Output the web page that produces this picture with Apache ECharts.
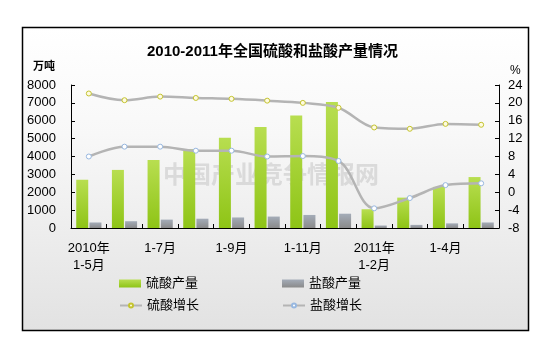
<!DOCTYPE html>
<html>
<head>
<meta charset="utf-8">
<title>2010-2011年全国硫酸和盐酸产量情况</title>
<script src="https://cdn.jsdelivr.net/npm/echarts@6/dist/echarts.min.js"></script>
<style>
  html, body { margin: 0; padding: 0; background: #ffffff; }
  #chart { width: 545px; height: 350px; }
</style>
</head>
<body>
<div id="chart"></div>
<script>
// Periods (cumulative months)
var categories = ['2010年\n1-5月', '1-6月', '1-7月', '1-8月', '1-9月', '1-10月', '1-11月', '1-12月',
                  '2011年\n1-2月', '1-3月', '1-4月', '1-5月'];
// Output, 10k tonnes
var sulfuricOutput = [2700, 3250, 3800, 4400, 5050, 5650, 6300, 7050, 1050, 1700, 2300, 2850];
var hydrochloricOutput = [310, 380, 470, 520, 590, 640, 730, 800, 140, 175, 260, 310];
// Year-on-year growth, %
var sulfuricGrowth = [22.1, 20.6, 21.4, 21.1, 20.9, 20.5, 20.0, 18.9, 14.5, 14.2, 15.3, 15.1];
var hydrochloricGrowth = [8.0, 10.2, 10.2, 9.3, 9.3, 8.0, 8.1, 7.0, -3.6, -1.3, 1.6, 2.0];

var FONT = '"Liberation Sans", Arial, "Noto Sans CJK SC", sans-serif';
var chart = echarts.init(document.getElementById('chart'), null, { renderer: 'canvas' });

var axisLine = { show: true, lineStyle: { color: '#000', width: 1 } };
var axisTick = { show: true, inside: true, length: 4, lineStyle: { color: '#000' } };
var legendText = { fontSize: 13, color: '#000', fontFamily: FONT };

function legendBox(left, top, name, isBar) {
  return {
    left: left, top: top, itemGap: 5,
    itemWidth: 22, itemHeight: isBar ? 8 : 5,
    textStyle: legendText,
    data: [isBar ? { name: name, icon: 'rect' } : { name: name }]
  };
}

chart.setOption({
  animation: false,
  textStyle: { fontFamily: FONT },
  graphic: [
    {
      type: 'rect', z: -10, silent: true,
      shape: { x: 22.5, y: 27.5, width: 506, height: 303 },
      style: {
        stroke: '#000', lineWidth: 1.5,
        fill: new echarts.graphic.LinearGradient(0, 0, 0, 1, [
          { offset: 0, color: '#ffffff' },
          { offset: 0.35, color: '#f8f8f8' },
          { offset: 1, color: '#e2e2e2' }
        ])
      }
    },
    {
      type: 'text', left: 147, top: 44, z: 10,
      style: { text: '2010-2011年全国硫酸和盐酸产量情况', font: 'bold 15px ' + FONT, fill: '#000' }
    },
    {
      type: 'text', left: 33, top: 61,
      style: { text: '万吨', font: 'bold 11px ' + FONT, fill: '#000' }
    },
    {
      type: 'text', left: 510, top: 65,
      style: { text: '%', font: '12px ' + FONT, fill: '#000' }
    },
    {
      type: 'text', left: 163, top: 162, z: 1, silent: true,
      style: { text: '中国产业竞争情报网', font: 'bold 24px "Noto Sans CJK SC", sans-serif',
               fill: 'rgba(180,180,180,0.4)' }
    }
  ],
  legend: [
    legendBox(114, 272, '硫酸产量', true),
    legendBox(114, 294, '硫酸增长', false),
    legendBox(277, 272, '盐酸产量', true),
    legendBox(277, 294, '盐酸增长', false)
  ],
  grid: { left: 71, right: 46, top: 85, height: 143, containLabel: false },
  xAxis: {
    type: 'category',
    data: categories,
    axisLine: axisLine,
    axisTick: { show: true, inside: true, length: 4, interval: 0, lineStyle: { color: '#000' } },
    axisLabel: { interval: 1, margin: 12, fontSize: 13, lineHeight: 17, color: '#000', fontFamily: FONT },
    splitLine: { show: false }
  },
  yAxis: [
    {
      type: 'value', min: 0, max: 8000, interval: 1000,
      axisLine: axisLine, axisTick: axisTick,
      axisLabel: { fontSize: 13, color: '#000', margin: 15, fontFamily: FONT,
                   formatter: function (v) { return String(v); } },
      splitLine: { show: false }
    },
    {
      type: 'value', min: -8, max: 24, interval: 4, position: 'right',
      axisLine: axisLine, axisTick: axisTick,
      axisLabel: { fontSize: 13, color: '#000', margin: 9, fontFamily: FONT },
      splitLine: { show: false }
    }
  ],
  series: [
    {
      name: '硫酸产量', type: 'bar', yAxisIndex: 0, barWidth: 12, barGap: '10%',
      data: sulfuricOutput,
      itemStyle: {
        color: new echarts.graphic.LinearGradient(0, 0, 0, 1, [
          { offset: 0, color: '#b8de50' },
          { offset: 1, color: '#8ec416' }
        ])
      }
    },
    {
      name: '盐酸产量', type: 'bar', yAxisIndex: 0, barWidth: 12,
      data: hydrochloricOutput,
      itemStyle: {
        color: new echarts.graphic.LinearGradient(0, 0, 0, 1, [
          { offset: 0, color: '#a4acb8' },
          { offset: 1, color: '#8a8a8a' }
        ])
      }
    },
    {
      name: '硫酸增长', type: 'line', yAxisIndex: 1, smooth: 0.35,
      data: sulfuricGrowth,
      symbol: 'circle', symbolSize: 5,
      lineStyle: { color: '#b4b4b4', width: 2.5 },
      itemStyle: { color: '#fffbe0', borderColor: '#c4c430', borderWidth: 1 },
      z: 5
    },
    {
      name: '盐酸增长', type: 'line', yAxisIndex: 1, smooth: 0.35,
      data: hydrochloricGrowth,
      symbol: 'circle', symbolSize: 5,
      lineStyle: { color: '#b4b4b4', width: 2.5 },
      itemStyle: { color: '#ffffff', borderColor: '#98b8e0', borderWidth: 1 },
      z: 5
    }
  ]
});
</script>
</body>
</html>
